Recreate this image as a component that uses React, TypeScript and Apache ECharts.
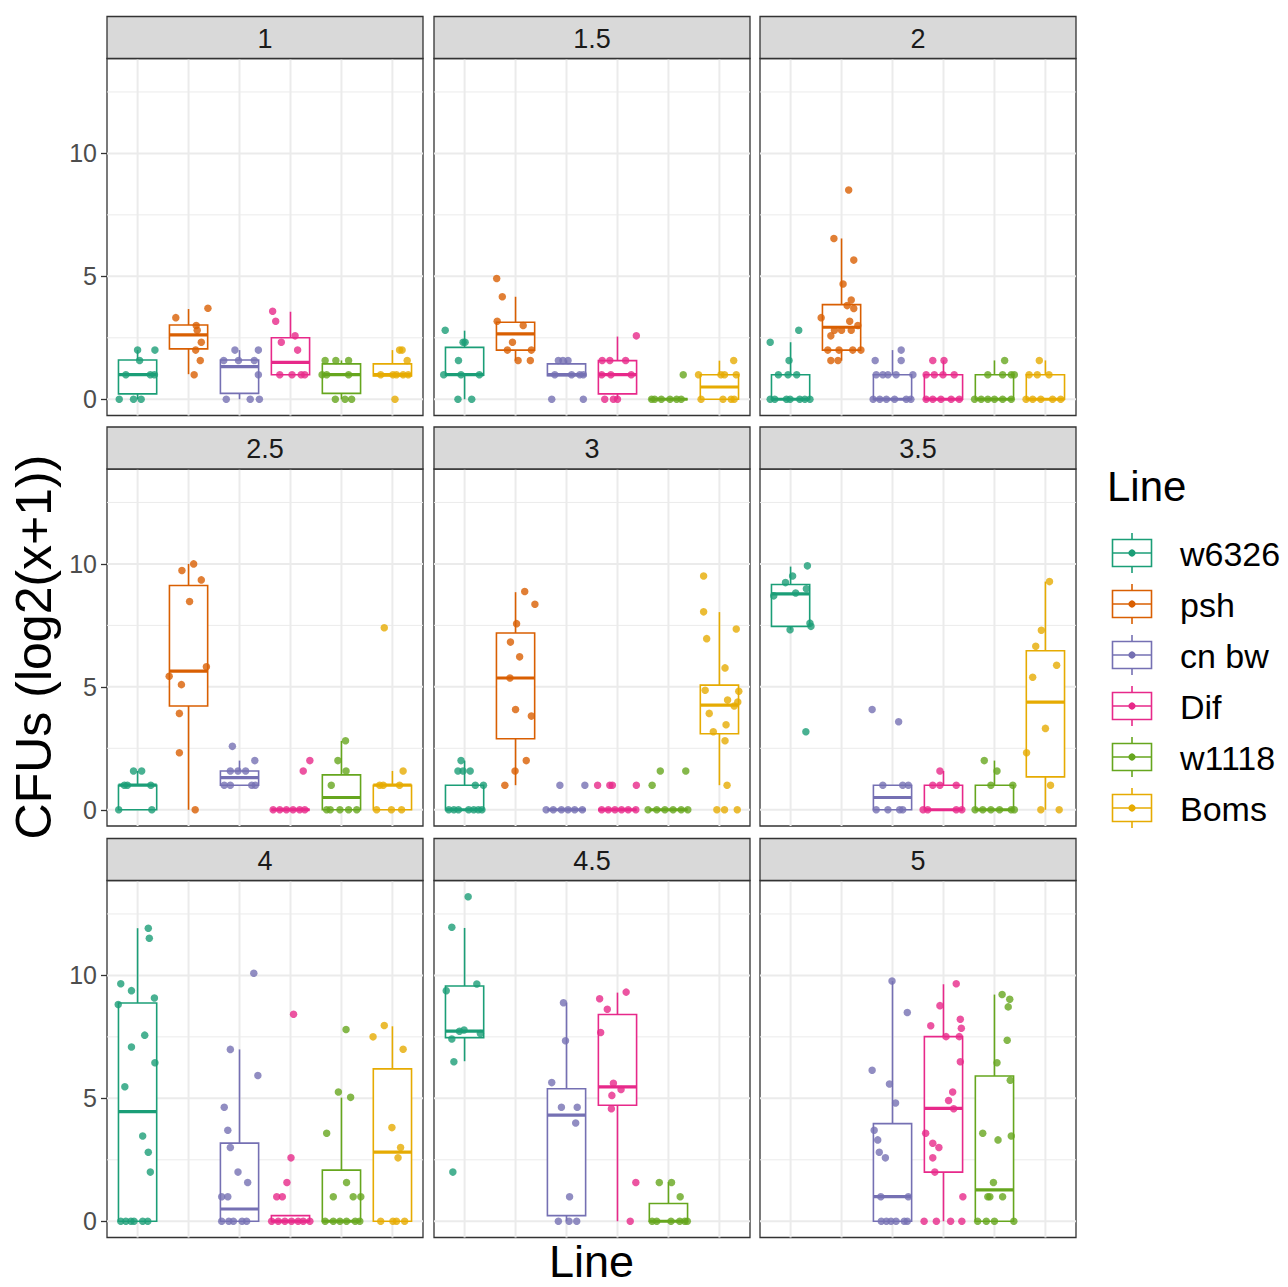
import React, { useEffect, useRef } from "react";
import * as echarts from "echarts";

// ---------- data ----------
const facetLabels = ["1", "1.5", "2", "2.5", "3", "3.5", "4", "4.5", "5"];
const lineNames = ["w6326", "psh", "cn bw", "Dif", "w1118", "Boms"];
const yTicks = [0, 5, 10];
const yMinorTicks = [2.5, 7.5, 12.5];
const palette = ["#1B9E77", "#D95F02", "#7570B3", "#E7298A", "#66A61E", "#E6AB02"];

// box stats per line: [lower whisker, Q1, median, Q3, upper whisker]
const box_1 = [[0, 0.22, 1.0, 1.6, 2.0], [1.02, 2.05, 2.62, 3.02, 3.67], [0, 0.24, 1.33, 1.6, 2.0], [1.0, 1.0, 1.5, 2.5, 3.56], [0, 0.24, 1.0, 1.44, 1.58], [0.95, 0.95, 1.0, 1.44, 2.0]];
const box_1_5 = [[0, 0.98, 1.0, 2.11, 2.79], [1.57, 2.0, 2.66, 3.13, 4.17], [0.96, 0.96, 1.0, 1.44, 1.58], [0, 0.22, 1.0, 1.57, 2.55], [0, 0, 0, 0, 0], [0, 0, 0.5, 1.0, 1.57]];
const box_2 = [[0, 0, 0, 1.0, 2.32], [1.57, 2.0, 2.93, 3.85, 6.54], [0, 0, 0, 1, 2], [0, 0, 0, 1, 1.58], [0, 0, 0, 1, 1.58], [0, 0, 0, 1, 1.58]];
const box_2_5 = [[0, 0, 1, 1, 1.58], [0, 4.22, 5.64, 9.12, 10.0], [1.0, 1.0, 1.31, 1.58, 2.0], [0, 0, 0, 0, 0], [0, 0, 0.5, 1.42, 2.8], [0, 0, 1, 1, 1.58]];
const box_3 = [[0, 0, 0, 1, 2], [1.0, 2.89, 5.36, 7.19, 8.85], [0, 0, 0, 0, 0], [0, 0, 0, 0, 0], [0, 0, 0, 0, 0], [1.0, 3.09, 4.26, 5.07, 8.04]];
const box_3_5 = [[7.32, 7.46, 8.78, 9.16, 9.89], null, [0, 0, 0.5, 1, 1], [0, 0, 0, 1, 1.58], [0, 0, 0, 1, 2], [0, 1.34, 4.38, 6.47, 9.28]];
const box_4 = [[0, 0, 4.46, 8.88, 11.92], null, [0, 0, 0.5, 3.18, 6.99], [0, 0, 0, 0.23, 0.23], [0, 0, 0, 2.08, 5.03], [0, 0, 2.81, 6.2, 7.93]];
const box_4_5 = [[6.51, 7.47, 7.73, 9.57, 11.93], null, [0, 0.23, 4.32, 5.39, 8.89], [0, 4.72, 5.47, 8.41, 9.3], [0, 0, 0, 0.72, 1.59], null];
const box_5 = [null, null, [0, 0, 1.0, 3.97, 9.77], [0, 2.0, 4.59, 7.51, 9.64], [0, 0, 1.28, 5.91, 9.22], null];

// jittered points per line: [horizontal jitter (category units), value]
const pts_1 = [
  [[-0.36, 0], [-0.08, 0], [0.07, 0], [-0.23, 1], [0.25, 1], [0.33, 1], [0.04, 1.58], [0, 2], [0.34, 2]],
  [[-0.25, 3.32], [0.38, 3.7], [0.15, 3.0], [0.17, 2.81], [0.25, 2.32], [0.14, 2.0], [0.23, 1.58], [0.11, 1.0]],
  [[-0.09, 2], [0.37, 2], [-0.31, 1.58], [-0.02, 1.58], [0.29, 1.58], [0.37, 1], [-0.26, 0], [0.21, 0], [0.39, 0]],
  [[-0.35, 3.58], [-0.29, 3.17], [0.09, 2.58], [-0.18, 2.32], [0.14, 2.0], [-0.21, 1], [0.03, 1], [0.21, 1], [0.28, 1]],
  [[-0.32, 1.58], [-0.11, 1.58], [0.14, 1.58], [-0.38, 1], [-0.29, 1], [0.14, 1], [-0.12, 0], [0.07, 0], [0.2, 0]],
  [[0.14, 2], [0.19, 2], [0.29, 1.58], [-0.23, 1], [0.01, 1], [0.08, 1], [0.21, 1], [0.31, 1], [0.05, 0]],
];
const pts_1_5 = [
  [[-0.38, 2.81], [-0.03, 2.32], [0.01, 2.32], [-0.12, 1.58], [-0.41, 1], [-0.07, 1], [0.29, 1], [-0.13, 0], [0.14, 0]],
  [[-0.37, 4.91], [-0.26, 4.17], [-0.36, 3.17], [0.15, 3.0], [-0.06, 2.32], [-0.16, 2], [0.31, 2], [0.05, 1.58], [0.29, 1.58]],
  [[-0.16, 1.58], [-0.07, 1.58], [0.03, 1.58], [-0.23, 1], [0.1, 1], [0.26, 1], [0.33, 1], [-0.29, 0], [0.33, 0]],
  [[0.37, 2.58], [-0.3, 1.58], [-0.15, 1.58], [0.16, 1.58], [-0.31, 1], [-0.13, 1], [0.27, 1], [-0.25, 0], [-0.08, 0], [0, 0]],
  [[-0.33, 0], [-0.27, 0], [-0.14, 0], [0.03, 0], [0.16, 0], [0.25, 0], [0.29, 1]],
  [[0.28, 1.58], [-0.41, 1], [0.03, 1], [0.1, 1], [0.33, 1], [-0.36, 0], [0.07, 0], [0.23, 0], [0.29, 0]],
];
const pts_2 = [
  [[-0.4, 2.32], [0.16, 2.81], [-0.03, 1.58], [-0.24, 1], [-0.05, 1], [0.12, 1], [-0.4, 0], [-0.31, 0], [-0.08, 0], [-0.01, 0], [0.18, 0], [0.28, 0], [0.38, 0]],
  [[0.14, 8.51], [-0.15, 6.54], [0.24, 5.66], [0.03, 4.69], [0.19, 4.04], [0.11, 3.81], [0.24, 3.69], [-0.4, 3.32], [0.16, 3.17], [0.32, 3.0], [-0.21, 2.58], [-0.14, 2.81], [0, 2.81], [0.19, 2.81], [-0.27, 2], [-0.05, 2], [0.22, 2], [0.38, 2], [-0.21, 1.58], [-0.07, 1.58]],
  [[0.17, 2], [0.17, 1.58], [-0.34, 1.58], [-0.32, 1], [-0.19, 1], [-0.09, 1], [0.07, 1], [0.4, 1], [-0.38, 0], [-0.25, 0], [-0.12, 0], [0.04, 0], [0.27, 0], [0.36, 0]],
  [[-0.21, 1.58], [0.01, 1.58], [-0.34, 1], [-0.18, 1], [-0.01, 1], [0.21, 1], [-0.34, 0], [-0.21, 0], [-0.05, 0], [0.15, 0], [0.31, 0]],
  [[0.2, 1.58], [-0.13, 1], [0.16, 1], [0.33, 1], [0.39, 1], [-0.39, 0], [-0.26, 0], [-0.13, 0], [0, 0], [0.16, 0], [0.33, 0]],
  [[-0.12, 1.58], [-0.32, 1], [-0.16, 1], [0.07, 1], [-0.38, 0], [-0.25, 0], [-0.09, 0], [0.14, 0], [0.3, 0]],
];
const pts_2_5 = [
  [[-0.08, 1.58], [0.08, 1.58], [-0.26, 1], [-0.2, 1], [0.26, 1], [-0.37, 0], [0.28, 0]],
  [[0.1, 10.0], [-0.13, 9.73], [0.25, 9.35], [0.02, 8.47], [0.35, 5.82], [-0.38, 5.43], [-0.14, 5.09], [-0.18, 3.92], [-0.18, 2.32], [0.13, 0]],
  [[-0.14, 2.58], [0.3, 2.0], [-0.18, 1.58], [-0.03, 1.58], [0.12, 1.58], [-0.3, 1], [-0.18, 1], [0.24, 1], [0.31, 1]],
  [[0.38, 2], [0.25, 1.58], [-0.34, 0], [-0.21, 0], [-0.08, 0], [0.05, 0], [0.18, 0], [0.28, 0]],
  [[0.08, 2.81], [-0.07, 2], [0.09, 1.58], [-0.2, 1], [-0.29, 0], [-0.22, 0], [-0.03, 0], [0.14, 0], [0.3, 0]],
  [[-0.16, 7.4], [0.21, 1.58], [-0.25, 1], [-0.18, 1], [0.14, 1], [-0.31, 0], [-0.02, 0], [0.18, 0]],
];
const pts_3 = [
  [[-0.07, 2], [-0.13, 1.58], [-0.03, 1.58], [0.11, 1.58], [0.21, 1], [0.37, 1], [-0.31, 0], [-0.21, 0], [-0.12, 0], [0.08, 0], [0.18, 0], [0.27, 0], [0.34, 0]],
  [[0.18, 8.88], [0.38, 8.36], [0.02, 7.57], [-0.1, 6.82], [0.08, 6.22], [-0.11, 5.36], [0, 4.08], [0.31, 3.81], [0.21, 2.0], [-0.01, 1.58], [-0.21, 1]],
  [[-0.13, 1], [0.36, 1], [-0.4, 0], [-0.26, 0], [-0.1, 0], [0.03, 0], [0.16, 0], [0.31, 0]],
  [[-0.39, 1], [-0.15, 1], [-0.1, 1], [0.37, 1], [-0.31, 0], [-0.18, 0], [-0.05, 0], [0.08, 0], [0.21, 0], [0.36, 0]],
  [[-0.16, 1.58], [0.34, 1.58], [-0.32, 1], [-0.4, 0], [-0.23, 0], [-0.07, 0], [0.09, 0], [0.25, 0], [0.38, 0]],
  [[-0.31, 9.51], [-0.31, 8.05], [0.33, 7.35], [-0.25, 6.96], [0.11, 5.77], [-0.28, 4.86], [0.38, 4.82], [0.16, 4.46], [0.36, 4.38], [0.29, 4.22], [-0.2, 3.92], [0.13, 3.46], [-0.12, 3.17], [0.11, 2.81], [0.15, 1], [-0.05, 0], [0.1, 0], [0.35, 0]],
];
const pts_3_5 = [
  [[0.33, 9.92], [0.04, 9.51], [-0.1, 9.24], [0.31, 8.99], [-0.33, 8.7], [0.1, 8.82], [0.38, 7.59], [0.4, 7.46], [-0.01, 7.32], [0.3, 3.17]],
  [],
  [[-0.4, 4.08], [0.12, 3.58], [-0.19, 1], [0.2, 1], [0.31, 1], [-0.32, 0], [-0.09, 0], [0.14, 0], [0.2, 0]],
  [[-0.07, 1.58], [-0.21, 1], [-0.07, 1], [0.25, 1], [-0.4, 0], [-0.31, 0], [0.25, 0], [0.36, 0]],
  [[-0.2, 2], [0.05, 1.58], [-0.07, 1], [0.36, 1], [-0.38, 0], [-0.23, 0], [-0.07, 0], [0.1, 0], [0.33, 0], [0.39, 0]],
  [[0.08, 9.28], [-0.08, 7.3], [-0.19, 6.65], [0.22, 5.88], [-0.25, 5.39], [0, 3.31], [-0.37, 2.32], [0.1, 1], [-0.09, 0], [0.27, 0]],
];
const pts_4 = [
  [[0.21, 11.92], [0.23, 11.51], [-0.33, 9.66], [-0.12, 9.38], [0.33, 9.08], [-0.38, 8.82], [0.14, 7.57], [-0.12, 7.09], [0.34, 6.45], [-0.25, 5.47], [0.1, 3.47], [0.21, 2.81], [0.25, 2.0], [-0.33, 0], [-0.23, 0], [-0.13, 0], [-0.07, 0], [0.1, 0], [0.2, 0]],
  [],
  [[0.28, 10.09], [-0.18, 6.99], [0.36, 5.93], [-0.3, 4.64], [-0.23, 3.7], [-0.18, 3.0], [-0.03, 2.0], [0.16, 1.58], [-0.35, 1], [-0.23, 1], [-0.35, 0], [-0.21, 0], [-0.12, 0], [0.05, 0], [0.14, 0]],
  [[0.06, 8.42], [0.01, 2.58], [-0.07, 1.58], [-0.27, 1], [-0.16, 1], [-0.37, 0], [-0.24, 0], [-0.11, 0], [0.02, 0], [0.15, 0], [0.25, 0], [0.38, 0]],
  [[0.09, 7.8], [-0.06, 5.26], [0.18, 5.04], [-0.29, 3.58], [0.1, 1.58], [-0.16, 1], [0.23, 1], [0.38, 1], [-0.32, 0], [-0.16, 0], [-0.03, 0], [0.1, 0], [0.27, 0], [0.36, 0]],
  [[-0.16, 7.96], [-0.38, 7.5], [0.21, 7.0], [-0.01, 3.81], [0.16, 3.0], [0.11, 2.58], [-0.23, 0], [0.01, 0], [0.08, 0], [0.24, 0]],
];
const pts_4_5 = [
  [[0.07, 13.2], [-0.25, 11.96], [0.24, 9.65], [-0.36, 9.38], [-0.1, 7.73], [-0.01, 7.78], [0.31, 7.64], [-0.25, 7.41], [-0.21, 6.49], [-0.23, 2.0]],
  [],
  [[-0.06, 8.89], [-0.02, 7.34], [-0.29, 5.64], [-0.1, 4.64], [0.21, 4.64], [0.18, 4.0], [0.06, 1], [-0.16, 0], [0.05, 0], [0.2, 0]],
  [[0.17, 9.32], [-0.35, 9.05], [-0.2, 8.62], [-0.33, 7.68], [-0.08, 5.61], [0.07, 5.36], [-0.11, 5.12], [-0.12, 4.58], [0.36, 1.58], [0.25, 0]],
  [[-0.18, 1.58], [0.06, 1.58], [0.23, 1], [-0.32, 0], [-0.23, 0], [0.05, 0], [0.22, 0], [0.32, 0], [0.37, 0]],
  [],
];
const pts_5 = [
  [],
  [],
  [[-0.01, 9.77], [0.29, 8.49], [-0.4, 6.14], [-0.06, 5.58], [0.06, 4.81], [-0.36, 3.7], [-0.29, 3.31], [-0.26, 2.81], [-0.14, 2.58], [-0.23, 1], [0.31, 1], [-0.22, 0], [-0.12, 0], [-0.03, 0], [0.07, 0], [0.23, 0], [0.29, 0]],
  [[0.25, 9.66], [-0.07, 8.77], [-0.25, 7.95], [0.33, 8.22], [0.35, 7.85], [0.05, 7.51], [0.31, 7.51], [0.33, 6.49], [0.18, 5.26], [0.1, 4.91], [0.2, 4.58], [-0.35, 3.58], [-0.21, 3.17], [-0.09, 3.0], [-0.21, 2.58], [-0.17, 2.0], [0.38, 1], [-0.38, 0], [-0.14, 0], [0.14, 0], [0.36, 0]],
  [[0.15, 9.22], [0.3, 9.03], [0.27, 8.72], [0.25, 7.36], [0.05, 6.45], [0.31, 5.74], [-0.23, 3.58], [0.07, 3.31], [0.33, 3.47], [-0.02, 1.58], [-0.13, 1], [-0.09, 1], [0.16, 1], [-0.33, 0], [-0.16, 0], [0, 0], [0.38, 0]],
  [],
];

const facetBoxes = [box_1, box_1_5, box_2, box_2_5, box_3, box_3_5, box_4, box_4_5, box_5];
const facetPoints = [pts_1, pts_1_5, pts_2, pts_2_5, pts_3, pts_3_5, pts_4, pts_4_5, pts_5];

// ---------- layout / style ----------
const FONT = "'Liberation Sans', Arial, Helvetica, sans-serif";
const COL_LEFT = [107, 434, 760];
const ROW_TOP = [58.5, 469, 880.5];
const PANEL_W = 316;
const PANEL_H = 357;
const STRIP_H = 42;
const Y_MIN = -0.66;
const Y_MAX = 13.86;
const BOX_W = 0.75;
const LW = 1.6;

const renderBox = (params: any, api: any) => {
  const x = api.value(0);
  const lo = api.value(1), q1 = api.value(2), med = api.value(3), q3 = api.value(4), hi = api.value(5);
  const color = palette[Math.round(x) - 1];
  const halfW = api.size([BOX_W, 0])[0] / 2;
  const c = api.coord([x, med]);
  const cx = c[0];
  const yLo = api.coord([x, lo])[1];
  const yQ1 = api.coord([x, q1])[1];
  const yQ3 = api.coord([x, q3])[1];
  const yHi = api.coord([x, hi])[1];
  return {
    type: "group",
    children: [
      { type: "line", shape: { x1: cx, y1: yHi, x2: cx, y2: yQ3 }, style: { stroke: color, lineWidth: LW } },
      { type: "line", shape: { x1: cx, y1: yQ1, x2: cx, y2: yLo }, style: { stroke: color, lineWidth: LW } },
      { type: "rect", shape: { x: cx - halfW, y: yQ3, width: 2 * halfW, height: yQ1 - yQ3 }, style: { fill: "#ffffff", stroke: color, lineWidth: LW } },
      { type: "line", shape: { x1: cx - halfW, y1: c[1], x2: cx + halfW, y2: c[1] }, style: { stroke: color, lineWidth: LW * 2 } },
    ],
  };
};

const makeVLine = (width: number) => (params: any, api: any) => {
  const cs = params.coordSys;
  const px = api.coord([api.value(0), 0])[0];
  return { type: "line", shape: { x1: px, y1: cs.y, x2: px, y2: cs.y + cs.height }, style: { stroke: "#EBEBEB", lineWidth: width } };
};
const makeHLine = (width: number) => (params: any, api: any) => {
  const cs = params.coordSys;
  const py = api.coord([1, api.value(1)])[1];
  return { type: "line", shape: { x1: cs.x, y1: py, x2: cs.x + cs.width, y2: py }, style: { stroke: "#EBEBEB", lineWidth: width } };
};

function buildOption() {
  const grid: any[] = [];
  const xAxis: any[] = [];
  const yAxis: any[] = [];
  const series: any[] = [];
  const graphic: any[] = [];

  facetLabels.forEach((label, i) => {
    const col = i % 3;
    const row = Math.floor(i / 3);
    const left = COL_LEFT[col];
    const top = ROW_TOP[row];
    grid.push({
      left, top, width: PANEL_W, height: PANEL_H,
      show: true, backgroundColor: "#ffffff", borderColor: "#333333", borderWidth: 1.3,
      containLabel: false, outerBoundsMode: "none",
    });
    xAxis.push({ type: "value", gridIndex: i, min: 0.4, max: 6.6, show: false });
    yAxis.push({
      type: "value", gridIndex: i, min: Y_MIN, max: Y_MAX,
      axisLine: { show: false },
      splitLine: { show: false },
      axisTick: { show: col === 0, customValues: yTicks, length: 6, lineStyle: { color: "#333333", width: 1.3 } },
      axisLabel: { show: col === 0, customValues: yTicks, fontSize: 25, color: "#4D4D4D", margin: 10, fontFamily: FONT },
    });

    series.push({
      type: "custom", xAxisIndex: i, yAxisIndex: i, silent: true, z: 1,
      renderItem: makeHLine(1), data: yMinorTicks.map((v) => [1, v]),
    });
    series.push({
      type: "custom", xAxisIndex: i, yAxisIndex: i, silent: true, z: 1,
      renderItem: makeHLine(2), data: yTicks.map((v) => [1, v]),
    });
    series.push({
      type: "custom", xAxisIndex: i, yAxisIndex: i, silent: true, z: 1,
      renderItem: makeVLine(2), data: lineNames.map((_, j) => [j + 1, 0]),
    });

    const boxes = facetBoxes[i];
    const boxData: number[][] = [];
    boxes.forEach((b, j) => {
      if (b) boxData.push([j + 1, ...b]);
    });
    series.push({
      type: "custom", xAxisIndex: i, yAxisIndex: i, silent: true, z: 2, clip: false,
      renderItem: renderBox, data: boxData,
    });

    const pts = facetPoints[i];
    const ptData: any[] = [];
    pts.forEach((group, j) => {
      group.forEach((p) => {
        ptData.push({ value: [j + 1 + p[0], p[1]], itemStyle: { color: palette[j] } });
      });
    });
    series.push({
      type: "scatter", xAxisIndex: i, yAxisIndex: i, silent: true, z: 3,
      symbol: "circle", symbolSize: 7.5, data: ptData,
    });

    // strip
    graphic.push({
      type: "rect", silent: true, z: 10,
      shape: { x: left, y: top - STRIP_H, width: PANEL_W, height: STRIP_H },
      style: { fill: "#D9D9D9", stroke: "#333333", lineWidth: 1.3 },
    });
    graphic.push({
      type: "text", silent: true, z: 11, x: left + PANEL_W / 2, y: top - STRIP_H / 2 + 1,
      style: { text: label, fontSize: 27, fontFamily: FONT, fill: "#1A1A1A", align: "center", verticalAlign: "middle" },
    });
  });

  // axis titles
  graphic.push({
    type: "text", silent: true, z: 11, x: 34, y: 647, rotation: Math.PI / 2,
    style: { text: "CFUs (log2(x+1))", fontSize: 50, fontFamily: FONT, fill: "#000000", align: "center", verticalAlign: "middle" },
  });
  graphic.push({
    type: "text", silent: true, z: 11, x: 591.5, y: 1261,
    style: { text: "Line", fontSize: 45, fontFamily: FONT, fill: "#000000", align: "center", verticalAlign: "middle" },
  });

  // legend
  graphic.push({
    type: "text", silent: true, z: 11, x: 1107, y: 486,
    style: { text: "Line", fontSize: 42, fontFamily: FONT, fill: "#000000", align: "left", verticalAlign: "middle" },
  });
  lineNames.forEach((name, j) => {
    const cy = 553 + 51 * j;
    const color = palette[j];
    const kx = 1132;
    graphic.push({ type: "line", silent: true, z: 11, shape: { x1: kx, y1: cy - 20, x2: kx, y2: cy + 20 }, style: { stroke: color, lineWidth: LW } });
    graphic.push({ type: "rect", silent: true, z: 12, shape: { x: kx - 19.5, y: cy - 13.5, width: 39, height: 27 }, style: { fill: "#ffffff", stroke: color, lineWidth: LW } });
    graphic.push({ type: "line", silent: true, z: 13, shape: { x1: kx - 19.5, y1: cy, x2: kx + 19.5, y2: cy }, style: { stroke: color, lineWidth: LW } });
    graphic.push({ type: "circle", silent: true, z: 14, shape: { cx: kx, cy, r: 3.6 }, style: { fill: color } });
    graphic.push({
      type: "text", silent: true, z: 11, x: 1180, y: cy + 1,
      style: { text: name, fontSize: 34, fontFamily: FONT, fill: "#000000", align: "left", verticalAlign: "middle" },
    });
  });

  return {
    animation: false,
    backgroundColor: "#ffffff",
    grid, xAxis, yAxis, series, graphic,
  };
}

export default function App() {
  const ref = useRef<HTMLDivElement>(null);
  useEffect(() => {
    document.body.style.margin = "0";
    if (!ref.current) return;
    const chart = echarts.init(ref.current, undefined, { renderer: "svg" });
    chart.setOption(buildOption() as any);
    return () => chart.dispose();
  }, []);
  return <div ref={ref} style={{ position: "absolute", left: 0, top: 0, width: 1288, height: 1287, background: "#fff" }} />;
}
